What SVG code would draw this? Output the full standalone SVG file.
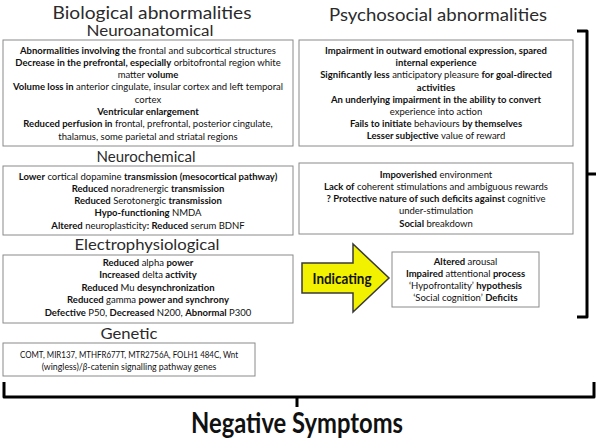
<svg xmlns="http://www.w3.org/2000/svg" width="602" height="439" viewBox="0 0 602 439">
<style>
text{font-family:Lato,"Liberation Sans",sans-serif;fill:#111;text-anchor:middle}
.t{font-size:9.5px}
.b{font-weight:bold}
.h1{font-size:17.5px;fill:#2b2b2b}
.h2{font-size:14.5px;fill:#2b2b2b}
.box{fill:#fff;stroke:#8a8a8a;stroke-width:1}
.br{fill:none;stroke:#000;stroke-width:3;stroke-linejoin:round}
</style>
<rect width="602" height="439" fill="#fff"/>

<g id="titles">
<text class="h1" x="152" y="19" textLength="199" lengthAdjust="spacingAndGlyphs">Biological abnormalities</text>
<text class="h1" x="438" y="21" textLength="218" lengthAdjust="spacingAndGlyphs">Psychosocial abnormalities</text>
</g>

<g id="neuroanatomical">
<text class="h2" x="150" y="36" textLength="127" lengthAdjust="spacingAndGlyphs">Neuroanatomical</text>
<rect class="box" x="3" y="40" width="290" height="106"/>
<text class="t" x="148" y="53.5"><tspan class="b">Abnormalities involving the</tspan> frontal and subcortical structures</text>
<text class="t" x="148" y="65.8"><tspan class="b">Decrease in the prefrontal, especially</tspan> orbitofrontal region white</text>
<text class="t" x="148" y="78.1">matter <tspan class="b">volume</tspan></text>
<text class="t" x="148" y="90.4"><tspan class="b">Volume loss in</tspan> anterior cingulate, insular cortex and left temporal</text>
<text class="t" x="148" y="102.7">cortex</text>
<text class="t b" x="148" y="115">Ventricular enlargement</text>
<text class="t" x="148" y="127.3"><tspan class="b">Reduced perfusion in</tspan> frontal, prefrontal, posterior cingulate,</text>
<text class="t" x="148" y="139.6">thalamus, some parietal and striatal regions</text>
</g>

<g id="neurochemical">
<text class="h2" x="146" y="162" textLength="99" lengthAdjust="spacingAndGlyphs">Neurochemical</text>
<rect class="box" x="3" y="166" width="290" height="69"/>
<text class="t" x="148" y="179.5"><tspan class="b">Lower</tspan> cortical dopamine <tspan class="b">transmission (mesocortical pathway)</tspan></text>
<text class="t" x="148" y="191.8"><tspan class="b">Reduced</tspan> noradrenergic <tspan class="b">transmission</tspan></text>
<text class="t" x="148" y="204.1"><tspan class="b">Reduced</tspan> Serotonergic <tspan class="b">transmission</tspan></text>
<text class="t" x="148" y="216.4"><tspan class="b">Hypo-functioning</tspan> NMDA</text>
<text class="t" x="148" y="228.7"><tspan class="b">Altered</tspan> neuroplasticity<tspan class="b">: Reduced</tspan> serum BDNF</text>
</g>

<g id="electrophysiological">
<text class="h2" x="147" y="250" textLength="145" lengthAdjust="spacingAndGlyphs">Electrophysiological</text>
<rect class="box" x="3" y="255" width="290" height="68"/>
<text class="t" x="148" y="265.5"><tspan class="b">Reduced</tspan> alpha <tspan class="b">power</tspan></text>
<text class="t" x="148" y="278"><tspan class="b">Increased</tspan> delta <tspan class="b">activity</tspan></text>
<text class="t" x="148" y="290.5"><tspan class="b">Reduced</tspan> Mu <tspan class="b">desynchronization</tspan></text>
<text class="t" x="148" y="303"><tspan class="b">Reduced</tspan> gamma <tspan class="b">power and synchrony</tspan></text>
<text class="t" x="148" y="315.5"><tspan class="b">Defective</tspan> P50, <tspan class="b">Decreased</tspan> N200, <tspan class="b">Abnormal</tspan> P300</text>
</g>

<g id="genetic">
<text class="h2" x="129" y="339" textLength="57" lengthAdjust="spacingAndGlyphs">Genetic</text>
<rect class="box" x="3" y="343" width="252" height="33"/>
<text class="t" x="129" y="357.5" textLength="218" lengthAdjust="spacingAndGlyphs">COMT, MIR137, MTHFR677T, MTR2756A, FOLH1 484C, Wnt</text>
<text x="129" y="369.5" font-size="8.8">(wingless)/<tspan font-style="italic">β</tspan>-catenin signalling pathway genes</text>
</g>

<g id="psychosocial1">
<rect class="box" x="299" y="40" width="274" height="106"/>
<text class="t b" x="436" y="54">Impairment in outward emotional expression, spared</text>
<text class="t b" x="436" y="66.2">internal experience</text>
<text class="t" x="436" y="78.4"><tspan class="b">Significantly less</tspan> anticipatory pleasure <tspan class="b">for goal-directed</tspan></text>
<text class="t b" x="436" y="90.6">activities</text>
<text class="t b" x="436" y="102.8">An underlying impairment in the ability to convert</text>
<text class="t" x="436" y="115">experience into action</text>
<text class="t" x="436" y="127.2"><tspan class="b">Fails to initiate</tspan> behaviours <tspan class="b">by themselves</tspan></text>
<text class="t" x="436" y="139.4"><tspan class="b">Lesser subjective</tspan> value of reward</text>
</g>

<g id="psychosocial2">
<rect class="box" x="299" y="163" width="274" height="71"/>
<text class="t" x="436" y="177.5"><tspan class="b">Impoverished</tspan> environment</text>
<text class="t" x="436" y="189.8"><tspan class="b">Lack of</tspan> coherent stimulations and ambiguous rewards</text>
<text class="t" x="436" y="202.1"><tspan class="b">? Protective nature of such deficits against</tspan> cognitive</text>
<text class="t" x="436" y="214.4">under-stimulation</text>
<text class="t" x="436" y="226.7"><tspan class="b">Social</tspan> breakdown</text>
</g>

<g id="indicating">
<polygon points="302,263 353,263 353,244 389,278 353,312 353,293 302,293" fill="#f2f200" stroke="#3a3a3a" stroke-width="1.5"/>
<text class="b" x="342" y="284" font-size="15" textLength="59" lengthAdjust="spacingAndGlyphs">Indicating</text>
</g>

<g id="indications">
<rect class="box" x="392" y="252" width="147" height="55"/>
<text class="t" x="465.5" y="264.5"><tspan class="b">Altered</tspan> arousal</text>
<text class="t" x="465.5" y="276.8"><tspan class="b">Impaired</tspan> attentional <tspan class="b">process</tspan></text>
<text class="t" x="465.5" y="289.1">‘Hypofrontality’ <tspan class="b">hypothesis</tspan></text>
<text class="t" x="465.5" y="301.4">‘Social cognition’ <tspan class="b">Deficits</tspan></text>
</g>

<g id="connectors">
<path class="br" d="M577,31 H587 V317 H577 M587,174 H596"/>
<path class="br" d="M4,382 V397 H594 V382 M297,397 V407"/>
</g>

<g id="negative-symptoms">
<text class="b" x="297" y="433" font-size="29" textLength="212" lengthAdjust="spacingAndGlyphs">Negative Symptoms</text>
</g>
</svg>
